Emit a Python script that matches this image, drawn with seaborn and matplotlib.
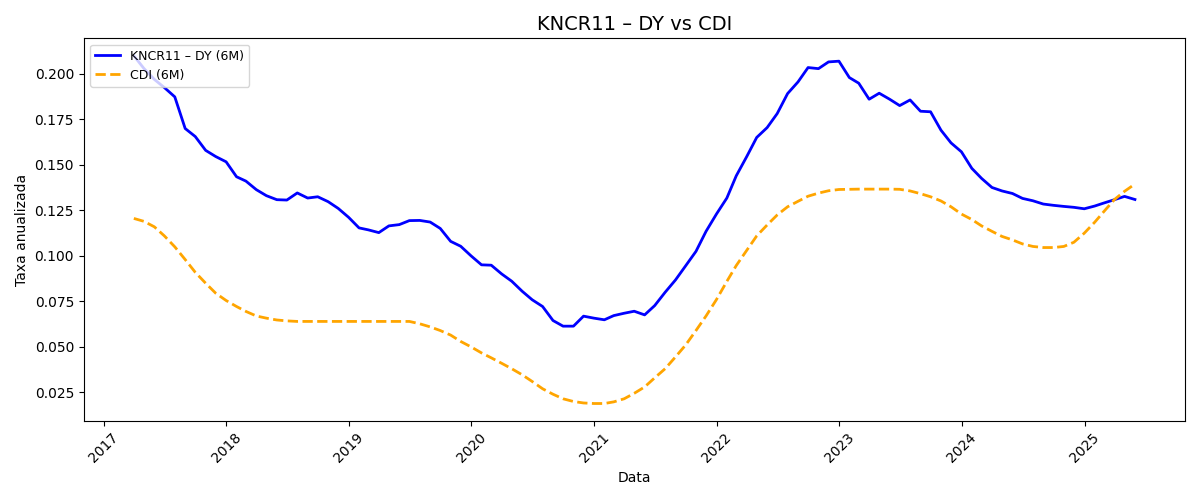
import pandas as pd
import seaborn as sns
import matplotlib.pyplot as plt

# datas mensais (fim de mes), mar/2017 a mai/2025
datas = pd.date_range('2017-03-31', '2025-05-31', freq='ME')

# DY anualizado do KNCR11 (janela 6M)
dy_kncr11 = [
    0.210, 0.203, 0.197, 0.1925, 0.1874, 0.170, 0.1656, 0.158, 0.1546, 0.1517,
    0.1435, 0.1411, 0.1364, 0.1331, 0.1309, 0.1307, 0.1346, 0.1318, 0.1325, 0.1298, 0.1261, 0.1212,
    0.1154, 0.1143, 0.1128, 0.1165, 0.1172, 0.1194, 0.1195, 0.1186, 0.1151, 0.108, 0.1053, 0.1000,
    0.0951, 0.0949, 0.0901, 0.0861, 0.0806, 0.0759, 0.0722, 0.0645, 0.0614, 0.0614, 0.0669, 0.0658,
    0.0649, 0.0672, 0.0685, 0.0696, 0.0676, 0.0727, 0.0800, 0.0868, 0.0945, 0.1025, 0.1135, 0.1230,
    0.1318, 0.1440, 0.1545, 0.1651, 0.1705, 0.1782, 0.1892, 0.1956, 0.2035, 0.2029, 0.2066, 0.2070,
    0.1980, 0.1949, 0.1861, 0.1894, 0.1861, 0.1826, 0.1857, 0.1795, 0.1792, 0.1691, 0.1621, 0.1572,
    0.1481, 0.1426, 0.1376, 0.1357, 0.1343, 0.1316, 0.1303, 0.1285, 0.1278, 0.1272, 0.1267, 0.1259,
    0.1274, 0.1291, 0.1309, 0.1327, 0.1310,
]

# CDI anualizado (janela 6M)
cdi = [
    0.1206, 0.119, 0.116, 0.111, 0.105, 0.098, 0.091, 0.085, 0.0795, 0.0755,
    0.0722, 0.0695, 0.067, 0.0658, 0.0648, 0.0643, 0.064, 0.064, 0.064, 0.064, 0.064, 0.064,
    0.064, 0.064, 0.064, 0.064, 0.064, 0.064, 0.0627, 0.061, 0.059, 0.0565, 0.053, 0.050,
    0.0467, 0.044, 0.041, 0.038, 0.0347, 0.031, 0.027, 0.024, 0.0215, 0.020, 0.0192, 0.0189,
    0.0189, 0.0198, 0.0215, 0.0245, 0.028, 0.033, 0.038, 0.0445, 0.051, 0.059, 0.067, 0.076,
    0.086, 0.0947, 0.103, 0.111, 0.117, 0.1225, 0.127, 0.130, 0.1328, 0.1345, 0.1358, 0.1365,
    0.1366, 0.1367, 0.1367, 0.1367, 0.1367, 0.1366, 0.1357, 0.1342, 0.1325, 0.1302, 0.127, 0.123,
    0.120, 0.1165, 0.1135, 0.1107, 0.1088, 0.1066, 0.1052, 0.1046, 0.1046, 0.1052, 0.1075, 0.1125,
    0.1185, 0.1245, 0.131, 0.1355, 0.1395,
]

df = pd.DataFrame({'Data': datas, 'dy': dy_kncr11, 'cdi': cdi})

fig, ax = plt.subplots(figsize=(12, 5), dpi=100)
sns.lineplot(data=df, x='Data', y='dy', ax=ax, color='blue', linewidth=2,
             label='KNCR11 – DY (6M)')
sns.lineplot(data=df, x='Data', y='cdi', ax=ax, color='orange', linewidth=2,
             linestyle='--', label='CDI (6M)')

ax.set_title('KNCR11 – DY vs CDI', fontsize=14)
ax.set_xlabel('Data')
ax.set_ylabel('Taxa anualizada')
ax.tick_params(axis='x', rotation=45)
ax.legend(loc='upper left', fontsize=9)

plt.tight_layout()
plt.savefig('out.png')
